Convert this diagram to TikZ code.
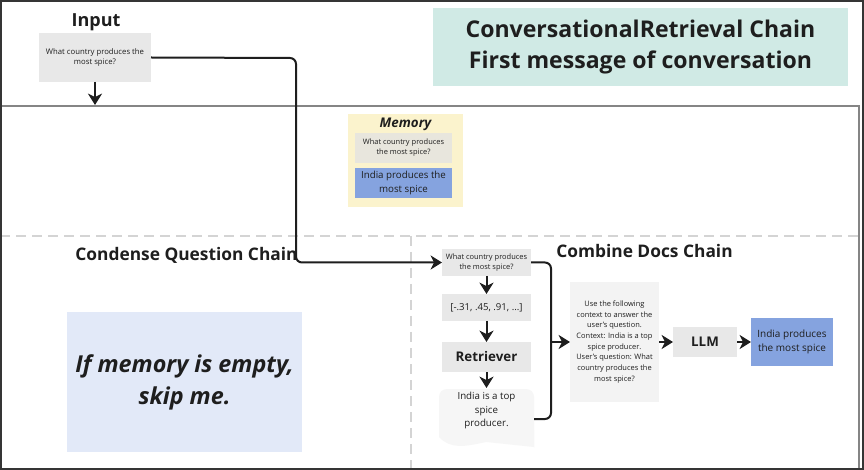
\documentclass[tikz,border=0pt]{standalone}
\usepackage{fontspec}
\setmainfont{Open Sans}
\usetikzlibrary{arrows.meta}
\definecolor{boxgray}{HTML}{E8E8E8}
\definecolor{titlebg}{HTML}{D0EAE5}
\definecolor{memorybg}{HTML}{FBF3CD}
\definecolor{memq}{HTML}{E8E6DD}
\definecolor{answerblue}{HTML}{85A3DF}
\definecolor{skipbg}{HTML}{E2E9F8}
\definecolor{promptbg}{HTML}{F3F3F3}
\definecolor{docbg}{HTML}{F6F6F6}
\definecolor{dashgray}{HTML}{D4D4D4}
\definecolor{framegray}{HTML}{858585}
\definecolor{ink}{HTML}{1E1E1E}
\tikzset{
  box/.style={inner sep=0pt, outer sep=0pt, align=center, text=ink},
  conn/.style={draw=ink, line width=1.5pt},
  arr/.style={conn, -{Stealth[length=8.5pt,width=10.5pt,inset=2.5pt]}},
  label/.style={text=ink, font=\bfseries, inner sep=0pt},
}
\begin{document}
\begin{tikzpicture}[x=0.75pt,y=-0.75pt]
\useasboundingbox (0,0) rectangle (864,470);
\fill[white] (0,0) rectangle (864,470);
% frames
\draw[framegray, line width=1.5pt] (0,106) -- (859,106) -- (859,470);
\draw[dashgray, line width=1.5pt, dash pattern=on 7.5pt off 4.5pt] (0,236) -- (859,236);
\draw[dashgray, line width=1.5pt, dash pattern=on 7.5pt off 4.5pt] (411,236) -- (411,470);
\draw[ink!90, line width=1.5pt] (0.75,0.75) rectangle (863.25,469.25);

% title
\node[box, fill=titlebg, minimum width=415*0.75pt, minimum height=78*0.75pt, font=\bfseries\fontsize{17.3}{23.5}\selectfont] (title) at (640.5,47) {ConversationalRetrieval Chain\\First message of conversation};

% input
\node[label, font=\bfseries\fontsize{13.5}{15}\selectfont] (inputlbl) at (96,22.5) {Input};
\node[box, fill=boxgray, minimum width=112*0.75pt, minimum height=49*0.75pt, font=\fontsize{5.8}{7.8}\selectfont] (input) at (95,57.5) {What country produces the\\most spice?};
\coordinate (inbelow) at (95,105);
\draw[arr] (input.south) -- (inbelow);

% memory
\node[box, fill=memorybg, minimum width=115*0.75pt, minimum height=93*0.75pt] (memory) at (405.5,160.5) {};
\node[label, font=\bfseries\itshape\fontsize{10}{11}\selectfont] (memlbl) at (405.5,124.5) {Memory};
\node[box, fill=memq, minimum width=97*0.75pt, minimum height=30*0.75pt, font=\fontsize{5.6}{7.5}\selectfont] (memq) at (403.5,148) {What country produces\\the most spice?};
\node[box, fill=answerblue, minimum width=97*0.75pt, minimum height=30*0.75pt, font=\fontsize{7.3}{10.5}\selectfont] (mema) at (403.5,183) {India produces the\\most spice};

% condense question chain
\node[label, font=\bfseries\fontsize{13}{14}\selectfont] (condlbl) at (186.5,255.5) {Condense Question Chain};
\node[box, fill=skipbg, minimum width=235*0.75pt, minimum height=140*0.75pt, font=\bfseries\itshape\fontsize{17.5}{24}\selectfont] (skip) at (184.5,382) {If memory is empty,\\skip me.};

% combine docs chain
\node[label, font=\bfseries\fontsize{13}{14}\selectfont] (comblbl) at (644.5,251) {Combine Docs Chain};
\node[box, fill=boxgray, minimum width=89*0.75pt, minimum height=27*0.75pt, font=\fontsize{5.6}{7.5}\selectfont] (q) at (486.5,262.5) {What country produces\\the most spice?};
\node[box, fill=boxgray, minimum width=89*0.75pt, minimum height=27*0.75pt, font=\fontsize{7.2}{8}\selectfont] (vec) at (486.5,307.5) {[-.31, .45, .91, ...]};
\node[box, fill=boxgray, minimum width=89*0.75pt, minimum height=30*0.75pt, font=\bfseries\fontsize{10}{11}\selectfont] (retr) at (486.5,357) {Retriever};
\fill[docbg, rounded corners=8*0.75pt] (534,447) -- (534,389) -- (439,389) -- (439,437);
\fill[docbg] (439,430) -- (439,437) .. controls (462,462) and (500,424) .. (534,447) -- (534,430) -- cycle;
\node[box, font=\fontsize{7.3}{10.2}\selectfont, align=center] (doc) at (486.5,410.5) {India is a top\\spice\\producer.};
\coordinate (docR) at (534,419);
\node[box, fill=promptbg, minimum width=89*0.75pt, minimum height=120*0.75pt, font=\fontsize{5.6}{8}\selectfont] (prompt) at (614.5,342) {Use the following\\context to answer the\\user's question.\\Context: India is a top\\spice producer.\\User's question: What\\country produces the\\most spice?};
\node[box, fill=boxgray, minimum width=64*0.75pt, minimum height=30*0.75pt, font=\bfseries\fontsize{10}{11}\selectfont] (llm) at (705,342) {LLM};
\node[box, fill=answerblue, minimum width=82*0.75pt, minimum height=48*0.75pt, font=\fontsize{7.5}{10.3}\selectfont] (ans) at (792,342) {India produces\\the most spice};

% connectors
\coordinate (bend1) at (296,58);
\coordinate (bend2) at (296,262.5);
\draw[arr, rounded corners=6*0.75pt] (input.east) -- (bend1) -- (bend2) -- (q.west);
\draw[arr] (q.south) -- (vec.north);
\draw[arr] (vec.south) -- (retr.north);
\draw[arr] (retr.south) -- (486.5,388) coordinate (doctop);
\coordinate (brace) at (551,342);
\draw[conn, rounded corners=6*0.75pt] (q.east) -| (brace);
\draw[conn, rounded corners=6*0.75pt] (docR) -| (brace);
\draw[arr] (brace) -- (prompt.west);
\draw[arr] (prompt.east) -- (llm.west);
\draw[arr] (llm.east) -- (ans.west);
\end{tikzpicture}
\end{document}
